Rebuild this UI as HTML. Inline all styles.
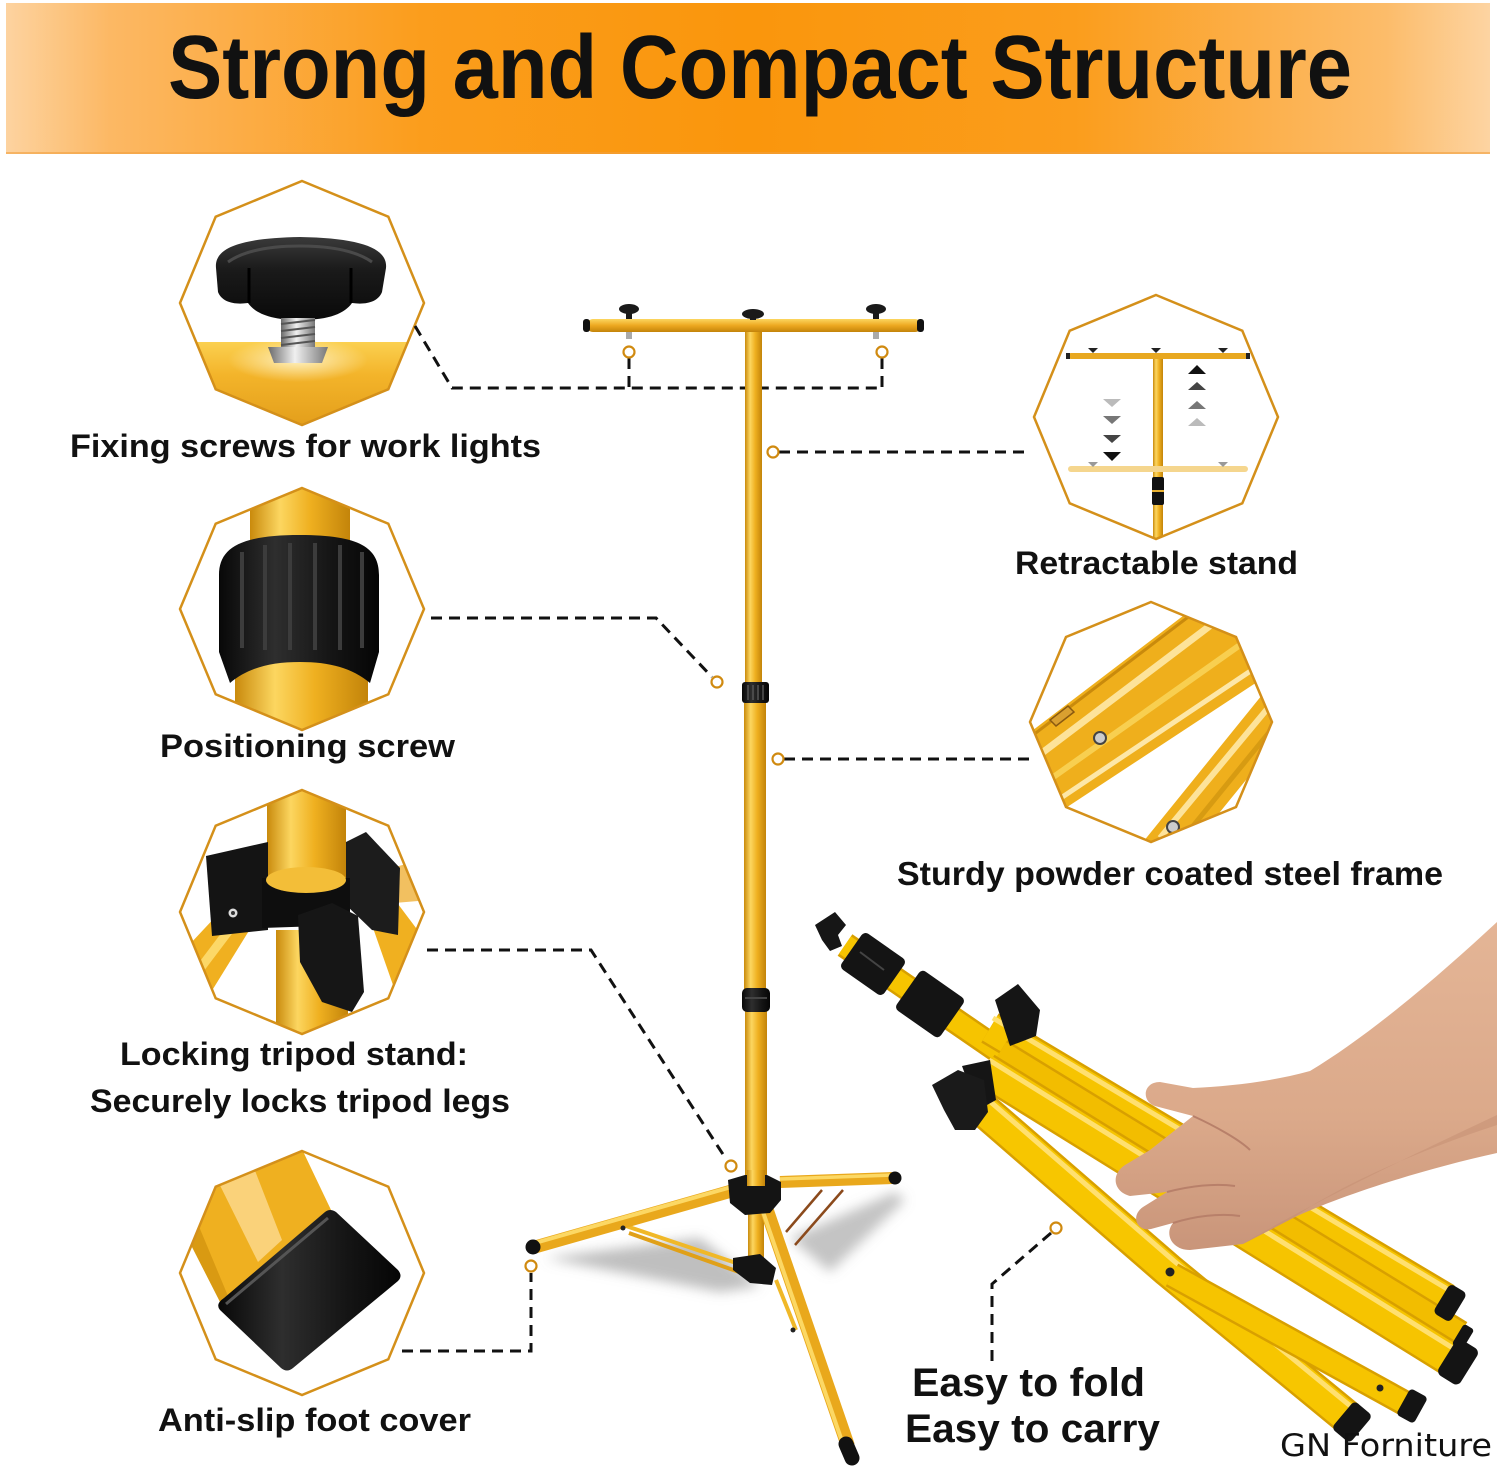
<!DOCTYPE html>
<html><head><meta charset="utf-8">
<style>
html,body{margin:0;padding:0;background:#fff;width:1497px;height:1467px;overflow:hidden}
svg{display:block}
.t{font-family:"Liberation Sans",Arial,sans-serif;font-weight:bold;fill:#111}
</style></head><body>
<svg width="1497" height="1467" viewBox="0 0 1497 1467" xmlns="http://www.w3.org/2000/svg">
<defs>
<linearGradient id="ban" x1="0" x2="1" y1="0" y2="0">
 <stop offset="0" stop-color="#fdd3a0"/>
 <stop offset="0.07" stop-color="#fcb864"/>
 <stop offset="0.28" stop-color="#fb9d1c"/>
 <stop offset="0.5" stop-color="#fa960c"/>
 <stop offset="0.72" stop-color="#fb9d1c"/>
 <stop offset="0.93" stop-color="#fcbc6a"/>
 <stop offset="1" stop-color="#fdd4a2"/>
</linearGradient>
<linearGradient id="poleH" x1="0" x2="1" y1="0" y2="0">
 <stop offset="0" stop-color="#c98a0c"/>
 <stop offset="0.3" stop-color="#fcd660"/>
 <stop offset="0.6" stop-color="#efb020"/>
 <stop offset="1" stop-color="#c3840a"/>
</linearGradient>
<linearGradient id="barV" x1="0" x2="0" y1="0" y2="1">
 <stop offset="0" stop-color="#fcd660"/>
 <stop offset="0.5" stop-color="#eda820"/>
 <stop offset="1" stop-color="#c3840a"/>
</linearGradient>
<linearGradient id="goldV" x1="0" x2="0" y1="0" y2="1">
 <stop offset="0" stop-color="#fbd050"/>
 <stop offset="0.35" stop-color="#f3b42a"/>
 <stop offset="1" stop-color="#e09a18"/>
</linearGradient>
<linearGradient id="blk" x1="0" x2="1" y1="0" y2="0">
 <stop offset="0" stop-color="#080808"/>
 <stop offset="0.35" stop-color="#2e2e2e"/>
 <stop offset="0.7" stop-color="#151515"/>
 <stop offset="1" stop-color="#050505"/>
</linearGradient>
<linearGradient id="knobG" x1="0" x2="0" y1="0" y2="1">
 <stop offset="0" stop-color="#3a3a3a"/>
 <stop offset="0.4" stop-color="#1a1a1a"/>
 <stop offset="1" stop-color="#0a0a0a"/>
</linearGradient>
<linearGradient id="steel" x1="0" x2="1" y1="0" y2="0">
 <stop offset="0" stop-color="#6a6a6a"/>
 <stop offset="0.45" stop-color="#f0f0f0"/>
 <stop offset="1" stop-color="#777"/>
</linearGradient>
<linearGradient id="skin" x1="0" x2="0" y1="0" y2="1">
 <stop offset="0" stop-color="#e4b596"/>
 <stop offset="0.6" stop-color="#dba98a"/>
 <stop offset="1" stop-color="#c9957a"/>
</linearGradient>
<radialGradient id="glow" cx="0.5" cy="0.5" r="0.5">
 <stop offset="0" stop-color="#fff6d0" stop-opacity="0.9"/>
 <stop offset="1" stop-color="#fff6d0" stop-opacity="0"/>
</radialGradient>
<filter id="blur" x="-20%" y="-50%" width="140%" height="200%"><feGaussianBlur stdDeviation="6"/></filter>
<clipPath id="c1"><polygon points="302,181 388.3,216.7 424,303 388.3,389.3 302,425 215.7,389.3 180,303 215.7,216.7"/></clipPath>
<clipPath id="c2"><polygon points="302,488 388.3,523.7 424,609 388.3,694.3 302,730 215.7,694.3 180,609 215.7,523.7"/></clipPath>
<clipPath id="c3"><polygon points="302,790 388.3,825.7 424,912 388.3,998.3 302,1034 215.7,998.3 180,912 215.7,825.7"/></clipPath>
<clipPath id="c4"><polygon points="302,1151 388.3,1186.7 424,1273 388.3,1359.3 302,1395 215.7,1359.3 180,1273 215.7,1186.7"/></clipPath>
<clipPath id="c5"><polygon points="1156,295 1242.3,330.7 1278,417 1242.3,503.3 1156,539 1069.7,503.3 1034,417 1069.7,330.7"/></clipPath>
<clipPath id="c6"><polygon points="1151,602 1236,637 1272,722 1236,807 1151,842 1066,807 1030,722 1066,637"/></clipPath>
</defs>

<rect x="0" y="0" width="1497" height="1467" fill="#fff"/>
<rect x="6" y="3" width="1484" height="151" fill="url(#ban)"/>
<rect x="6" y="152" width="1484" height="2" fill="#f2a040" opacity="0.6"/>
<text class="t" x="168" y="98" font-size="90" textLength="1184" lengthAdjust="spacingAndGlyphs">Strong and Compact Structure</text>

<!-- Octagon 1 -->
<g clip-path="url(#c1)">
 <rect x="170" y="342" width="270" height="95" fill="url(#goldV)"/>
 <ellipse cx="298" cy="360" rx="70" ry="22" fill="url(#glow)"/>
 <path d="M216,268 C214,248 240,238 300,237 C360,238 388,248 386,268 L382,292 C378,302 366,305 352,303 C345,313 330,320 300,320 C270,320 255,313 248,303 C234,305 222,302 218,292 Z" fill="url(#knobG)"/>
 <path d="M228,262 C245,250 270,246 300,246 C330,246 355,250 372,262" stroke="#4a4a4a" stroke-width="3" fill="none"/>
 <line x1="249" y1="268" x2="249" y2="303" stroke="#000" stroke-width="3"/>
 <line x1="351" y1="268" x2="351" y2="303" stroke="#000" stroke-width="3"/>
 <rect x="281" y="318" width="34" height="30" fill="url(#steel)"/>
 <g stroke="#555" stroke-width="2">
  <line x1="281" y1="324" x2="315" y2="320"/>
  <line x1="281" y1="331" x2="315" y2="327"/>
  <line x1="281" y1="338" x2="315" y2="334"/>
  <line x1="281" y1="345" x2="315" y2="341"/>
 </g>
 <path d="M268,347 L328,347 L322,363 L274,363 Z" fill="url(#steel)"/>
</g>
<polygon points="302,181 388.3,216.7 424,303 388.3,389.3 302,425 215.7,389.3 180,303 215.7,216.7" fill="none" stroke="#d4901a" stroke-width="2.5"/>

<!-- Octagon 2 -->
<g clip-path="url(#c2)">
 <rect x="250" y="480" width="100" height="70" fill="url(#poleH)"/>
 <rect x="235" y="640" width="133" height="100" fill="url(#poleH)"/>
 <path d="M219,575 C219,548 240,535 300,535 C360,535 379,548 379,575 L379,652 L370,683 C352,668 330,662 300,662 C270,662 248,668 230,683 L219,652 Z" fill="url(#blk)"/>
 <g stroke="#3c3c3c" stroke-width="4">
  <line x1="242" y1="552" x2="242" y2="648"/>
  <line x1="265" y1="545" x2="265" y2="650"/>
  <line x1="290" y1="543" x2="290" y2="650"/>
  <line x1="315" y1="543" x2="315" y2="650"/>
  <line x1="340" y1="545" x2="340" y2="650"/>
  <line x1="362" y1="552" x2="362" y2="648"/>
 </g>
</g>
<polygon points="302,488 388.3,523.7 424,609 388.3,694.3 302,730 215.7,694.3 180,609 215.7,523.7" fill="none" stroke="#d4901a" stroke-width="2.5"/>

<!-- Octagon 3 -->
<g clip-path="url(#c3)">
 <polygon points="175,1000 175,960 250,880 268,900 200,1010" fill="#f0b020"/>
 <polygon points="182,985 250,895 256,902 188,992" fill="#fcd868"/>
 <polygon points="365,905 395,900 440,960 430,1010 400,1005" fill="#f0b020"/>
 <polygon points="350,880 420,860 430,900 370,905" fill="#f2c060"/>
 <rect x="267" y="780" width="79" height="110" fill="url(#poleH)"/>
 <rect x="276" y="930" width="72" height="110" fill="url(#poleH)"/>
 <polygon points="206,856 268,842 268,930 212,936" fill="#141414"/>
 <polygon points="346,842 366,832 400,868 398,935 372,930 346,905" fill="#1c1c1c"/>
 <polygon points="262,878 350,878 350,925 262,928" fill="#0e0e0e"/>
 <ellipse cx="306" cy="880" rx="40" ry="13" fill="#f3be38"/>
 <polygon points="298,915 332,903 358,916 364,992 352,1012 322,1002 300,962" fill="#161616"/>
 <circle cx="233" cy="913" r="4.5" fill="#ddd"/>
 <circle cx="233" cy="913" r="2" fill="#333"/>
</g>
<polygon points="302,790 388.3,825.7 424,912 388.3,998.3 302,1034 215.7,998.3 180,912 215.7,825.7" fill="none" stroke="#d4901a" stroke-width="2.5"/>

<!-- Octagon 4 -->
<g clip-path="url(#c4)">
 <polygon points="140,1145 300,1145 332,1212 222,1302" fill="#efb020"/>
 <polygon points="200,1145 245,1145 282,1240 258,1262" fill="#fad27a"/>
 <polygon points="140,1145 165,1145 228,1296 220,1302" fill="#d99a12"/>
 <path d="M224,1298 L325,1212 Q330,1208 336,1212 L398,1270 Q403,1276 398,1281 L293,1368 Q287,1373 281,1368 L220,1310 Q215,1304 224,1298 Z" fill="url(#blk)"/>
 <path d="M226,1304 L328,1218" stroke="#555" stroke-width="3"/>
</g>
<polygon points="302,1151 388.3,1186.7 424,1273 388.3,1359.3 302,1395 215.7,1359.3 180,1273 215.7,1186.7" fill="none" stroke="#d4901a" stroke-width="2.5"/>

<!-- Octagon 5 -->
<g clip-path="url(#c5)">
 <rect x="1153" y="357" width="10" height="190" fill="url(#poleH)"/>
 <rect x="1068" y="353" width="180" height="6" rx="3" fill="#e8a820"/>
 <rect x="1066" y="353" width="4" height="6" fill="#222"/>
 <rect x="1246" y="353" width="4" height="6" fill="#222"/>
 <path d="M1088,348 L1098,348 L1093,353 Z M1151,348 L1161,348 L1156,353 Z M1218,348 L1228,348 L1223,353 Z" fill="#222"/>
 <rect x="1068" y="466" width="180" height="6" rx="3" fill="#f5d68e"/>
 <path d="M1088,462 L1098,462 L1093,467 Z M1218,462 L1228,462 L1223,467 Z" fill="#999"/>
 <rect x="1152" y="477" width="12" height="28" rx="2" fill="#111"/>
 <line x1="1152" y1="491" x2="1164" y2="491" stroke="#e8b030" stroke-width="2"/>
 <polygon points="1103,399 1121,399 1112,407" fill="#bbb"/>
 <polygon points="1103,416 1121,416 1112,424" fill="#777"/>
 <polygon points="1103,435 1121,435 1112,443" fill="#444"/>
 <polygon points="1103,452 1121,452 1112,461" fill="#111"/>
 <polygon points="1188,374 1206,374 1197,365" fill="#111"/>
 <polygon points="1188,390 1206,390 1197,382" fill="#444"/>
 <polygon points="1188,409 1206,409 1197,401" fill="#777"/>
 <polygon points="1188,426 1206,426 1197,418" fill="#bbb"/>
</g>
<polygon points="1156,295 1242.3,330.7 1278,417 1242.3,503.3 1156,539 1069.7,503.3 1034,417 1069.7,330.7" fill="none" stroke="#d4901a" stroke-width="2.5"/>

<!-- Octagon 6 -->
<g clip-path="url(#c6)">
 <polygon points="1020,740 1200,603 1280,603 1280,667 1020,838" fill="#efaf1c"/>
 <line x1="1030" y1="762" x2="1215" y2="622" stroke="#fde39a" stroke-width="7"/>
 <line x1="1035" y1="790" x2="1240" y2="645" stroke="#f8cf50" stroke-width="6"/>
 <line x1="1040" y1="812" x2="1255" y2="668" stroke="#fde7a8" stroke-width="5"/>
 <line x1="1020" y1="745" x2="1200" y2="608" stroke="#c98a0c" stroke-width="3"/>
 <polygon points="1143,842 1262,695 1285,700 1285,732 1207,828 1190,852" fill="#efaf1c"/>
 <line x1="1160" y1="838" x2="1268" y2="708" stroke="#fde39a" stroke-width="6"/>
 <line x1="1180" y1="842" x2="1275" y2="725" stroke="#d79b12" stroke-width="5"/>
 <path d="M1050,720 L1068,706 L1074,712 L1056,726 Z" fill="#d9a030" stroke="#8a5a10" stroke-width="1.5"/>
 <circle cx="1100" cy="738" r="6" fill="#ccc" stroke="#444" stroke-width="2"/>
 <circle cx="1173" cy="827" r="6" fill="#ccc" stroke="#444" stroke-width="2"/>
</g>
<polygon points="1151,602 1236,637 1272,722 1236,807 1151,842 1066,807 1030,722 1066,637" fill="none" stroke="#d4901a" stroke-width="2.5"/>

<!-- Dashed connectors -->
<g fill="none" stroke="#111" stroke-width="3" stroke-dasharray="11 7">
 <path d="M415,326 L452,388 L882,388"/>
 <path d="M629,358 L629,388"/>
 <path d="M882,358 L882,388"/>
 <path d="M779,452 L1030,452"/>
 <path d="M431,618 L656,618 L712,677"/>
 <path d="M784,759 L1032,759"/>
 <path d="M427,950 L591,950 L726,1159"/>
 <path d="M402,1351 L531,1351 L531,1273"/>
 <path d="M1051,1233 L992,1284 L992,1362"/>
</g>

<!-- Shadows -->
<g filter="url(#blur)">
 <polygon points="545,1258 700,1238 760,1286 720,1292" fill="#8a8a8a" opacity="0.55"/>
 <polygon points="790,1238 895,1192 905,1200 830,1272" fill="#8a8a8a" opacity="0.5"/>
</g>

<!-- Main stand -->
<rect x="745" y="328" width="17" height="356" fill="url(#poleH)"/>
<rect x="744" y="703" width="22" height="286" fill="url(#poleH)"/>
<rect x="745" y="1011" width="22" height="175" fill="url(#poleH)"/>
<rect x="742" y="682" width="27" height="21" rx="3" fill="url(#blk)"/>
<g stroke="#555" stroke-width="1.5"><line x1="748" y1="685" x2="748" y2="700"/><line x1="753" y1="685" x2="753" y2="700"/><line x1="758" y1="685" x2="758" y2="700"/><line x1="763" y1="685" x2="763" y2="700"/></g>
<rect x="742" y="988" width="28" height="24" rx="5" fill="url(#blk)"/>
<line x1="745" y1="998" x2="767" y2="998" stroke="#444" stroke-width="2"/>

<rect x="587" y="319" width="334" height="13" rx="6" fill="url(#barV)"/>
<rect x="583" y="319" width="7" height="13" rx="3" fill="#111"/>
<rect x="917" y="319" width="7" height="13" rx="3" fill="#111"/>
<g fill="#1a1a1a">
 <ellipse cx="629" cy="309" rx="10" ry="5"/><rect x="626" y="310" width="6" height="9"/>
 <ellipse cx="753" cy="314" rx="11" ry="5"/><rect x="750" y="315" width="6" height="5"/>
 <ellipse cx="876" cy="309" rx="10" ry="5"/><rect x="873" y="310" width="6" height="9"/>
</g>
<rect x="626" y="332" width="6" height="7" fill="#aaa"/>
<rect x="873" y="332" width="6" height="7" fill="#aaa"/>

<line x1="626" y1="1226" x2="736" y2="1263" stroke="#f0b828" stroke-width="4"/>
<line x1="629" y1="1233" x2="739" y2="1272" stroke="#e0a018" stroke-width="4"/>
<line x1="776" y1="1280" x2="796" y2="1330" stroke="#f0b828" stroke-width="4"/>
<line x1="786" y1="1232" x2="822" y2="1190" stroke="#8b4a1c" stroke-width="2.5"/>
<line x1="795" y1="1245" x2="843" y2="1190" stroke="#8b4a1c" stroke-width="2.5"/>
<rect x="748" y="1205" width="16" height="60" fill="url(#poleH)"/>
<line x1="735" y1="1190" x2="535" y2="1247" stroke="#e9a81c" stroke-width="13"/>
<line x1="735" y1="1186" x2="535" y2="1243" stroke="#fcd864" stroke-width="4"/>
<circle cx="533" cy="1247" r="7.5" fill="#111"/>
<line x1="780" y1="1182" x2="892" y2="1178" stroke="#e9a81c" stroke-width="12"/>
<line x1="780" y1="1179" x2="892" y2="1175" stroke="#fcd864" stroke-width="3.5"/>
<circle cx="895" cy="1178" r="6.5" fill="#111"/>
<line x1="765" y1="1205" x2="848" y2="1446" stroke="#e9a81c" stroke-width="14"/>
<line x1="761" y1="1206" x2="844" y2="1447" stroke="#fcd864" stroke-width="4"/>
<line x1="846" y1="1444" x2="852" y2="1458" stroke="#111" stroke-width="15" stroke-linecap="round"/>
<polygon points="728,1180 745,1175 767,1175 781,1182 781,1200 770,1213 745,1215 730,1203" fill="#141414"/>
<rect x="747" y="1170" width="18" height="16" fill="url(#poleH)"/>
<polygon points="733,1258 760,1254 776,1268 772,1285 750,1283 733,1270" fill="#141414"/>
<circle cx="623" cy="1228" r="2.5" fill="#222"/>
<circle cx="793" cy="1330" r="2.5" fill="#222"/>

<g fill="#fff" stroke="#d08a10" stroke-width="2.2">
 <circle cx="629" cy="352" r="5.5"/>
 <circle cx="882" cy="352" r="5.5"/>
 <circle cx="773" cy="452" r="5.5"/>
 <circle cx="717" cy="682" r="5.5"/>
 <circle cx="778" cy="759" r="5.5"/>
 <circle cx="731" cy="1166" r="5.5"/>
 <circle cx="531" cy="1266" r="5.5"/>
 <circle cx="1056" cy="1228" r="5.5"/>
</g>

<!-- Folded tripod -->
<g stroke-linecap="butt">
 <line x1="845" y1="945" x2="1005" y2="1055" stroke="#d8a000" stroke-width="26"/>
 <line x1="845" y1="945" x2="1005" y2="1055" stroke="#f6c400" stroke-width="21"/>
 <line x1="990" y1="1028" x2="1446" y2="1300" stroke="#d8a000" stroke-width="34"/>
 <line x1="990" y1="1028" x2="1446" y2="1300" stroke="#f6c400" stroke-width="29"/>
 <line x1="993" y1="1018" x2="1449" y2="1290" stroke="#ffe070" stroke-width="5"/>
 <line x1="1000" y1="1052" x2="1460" y2="1334" stroke="#d8a000" stroke-width="28"/>
 <line x1="1000" y1="1052" x2="1460" y2="1334" stroke="#f2bd00" stroke-width="23"/>
 <line x1="985" y1="1070" x2="1452" y2="1360" stroke="#d8a000" stroke-width="36"/>
 <line x1="985" y1="1070" x2="1452" y2="1360" stroke="#f6c400" stroke-width="31"/>
 <line x1="989" y1="1060" x2="1456" y2="1350" stroke="#ffe070" stroke-width="5"/>
 <polyline points="972,1100 1168,1270 1348,1418" fill="none" stroke="#d8a000" stroke-width="35" stroke-linejoin="round"/>
 <polyline points="972,1100 1168,1270 1348,1418" fill="none" stroke="#f7c600" stroke-width="30" stroke-linejoin="round"/>
 <polyline points="978,1091 1174,1261 1354,1409" fill="none" stroke="#ffe070" stroke-width="5" stroke-linejoin="round"/>
 <line x1="1172" y1="1275" x2="1408" y2="1405" stroke="#d8a000" stroke-width="26"/>
 <line x1="1172" y1="1275" x2="1408" y2="1405" stroke="#f6c400" stroke-width="21"/>
</g>
<circle cx="1170" cy="1272" r="4.5" fill="#222"/>
<circle cx="1380" cy="1388" r="3.5" fill="#222"/>
<polygon points="815,925 835,912 846,925 838,935 842,946 830,951 822,940" fill="#161616"/>
<rect x="-26" y="-22" width="52" height="44" rx="5" fill="#141414" transform="translate(873,964) rotate(35)"/>
<rect x="-27" y="-24" width="54" height="48" rx="5" fill="#141414" transform="translate(930,1004) rotate(35)"/>
<line x1="860" y1="952" x2="884" y2="970" stroke="#444" stroke-width="2"/>
<polygon points="995,1000 1018,984 1040,1010 1036,1036 1010,1046" fill="#151515"/>
<polygon points="962,1066 990,1060 996,1100 978,1110" fill="#151515"/>
<polygon points="932,1085 958,1070 984,1080 988,1112 975,1130 955,1130 944,1110" fill="#1a1a1a"/>
<rect x="-10" y="-17" width="20" height="34" rx="5" fill="#141414" transform="translate(1450,1303) rotate(31)"/>
<rect x="-6" y="-12" width="12" height="24" rx="3" fill="#141414" transform="translate(1463,1337) rotate(31)"/>
<rect x="-13" y="-21" width="26" height="42" rx="6" fill="#141414" transform="translate(1458,1362) rotate(32)"/>
<rect x="-10" y="-15" width="20" height="30" rx="4" fill="#141414" transform="translate(1412,1406) rotate(29)"/>
<rect x="-12" y="-18" width="24" height="36" rx="5" fill="#141414" transform="translate(1352,1422) rotate(40)"/>

<!-- Hand -->
<path d="M1497,922 C1440,975 1370,1035 1310,1071 C1270,1082 1230,1086 1193,1088 L1160,1082 C1143,1082 1141,1101 1155,1106 L1193,1116 L1150,1150 L1125,1165 C1110,1175 1114,1192 1130,1196 L1167,1192 L1143,1207 C1130,1216 1137,1232 1151,1229 L1173,1223 C1164,1234 1172,1250 1190,1250 L1243,1244 L1293,1218 C1340,1196 1420,1170 1497,1153 Z" fill="url(#skin)"/>
<path d="M1497,1125 C1420,1150 1340,1185 1293,1218 L1243,1244 C1290,1215 1380,1170 1497,1115 Z" fill="#c48e72" opacity="0.5"/>
<g stroke="#b8806a" stroke-width="2" fill="none">
 <path d="M1193,1116 C1215,1126 1240,1140 1250,1150"/>
 <path d="M1167,1192 C1190,1186 1215,1183 1235,1186"/>
 <path d="M1173,1223 C1195,1216 1220,1213 1240,1216"/>
</g>

<!-- Labels -->
<text class="t" x="70" y="457" font-size="32" textLength="471" lengthAdjust="spacingAndGlyphs">Fixing screws for work lights</text>
<text class="t" x="160" y="757" font-size="32" textLength="295" lengthAdjust="spacingAndGlyphs">Positioning screw</text>
<text class="t" x="120" y="1065" font-size="32" textLength="348" lengthAdjust="spacingAndGlyphs">Locking tripod stand:</text>
<text class="t" x="90" y="1112" font-size="32" textLength="420" lengthAdjust="spacingAndGlyphs">Securely locks tripod legs</text>
<text class="t" x="158" y="1431" font-size="32" textLength="313" lengthAdjust="spacingAndGlyphs">Anti-slip foot cover</text>
<text class="t" x="1015" y="574" font-size="32" textLength="283" lengthAdjust="spacingAndGlyphs">Retractable stand</text>
<text class="t" x="897" y="885" font-size="33" textLength="546" lengthAdjust="spacingAndGlyphs">Sturdy powder coated steel frame</text>
<text class="t" x="912" y="1396" font-size="40" textLength="233" lengthAdjust="spacingAndGlyphs">Easy to fold</text>
<text class="t" x="905" y="1442" font-size="40" textLength="255" lengthAdjust="spacingAndGlyphs">Easy to carry</text>
<text x="1280" y="1456" font-size="31" font-family="'DejaVu Sans','Liberation Sans',sans-serif" fill="#111" textLength="212" lengthAdjust="spacingAndGlyphs">GN Forniture</text>
</svg>
</body></html>
